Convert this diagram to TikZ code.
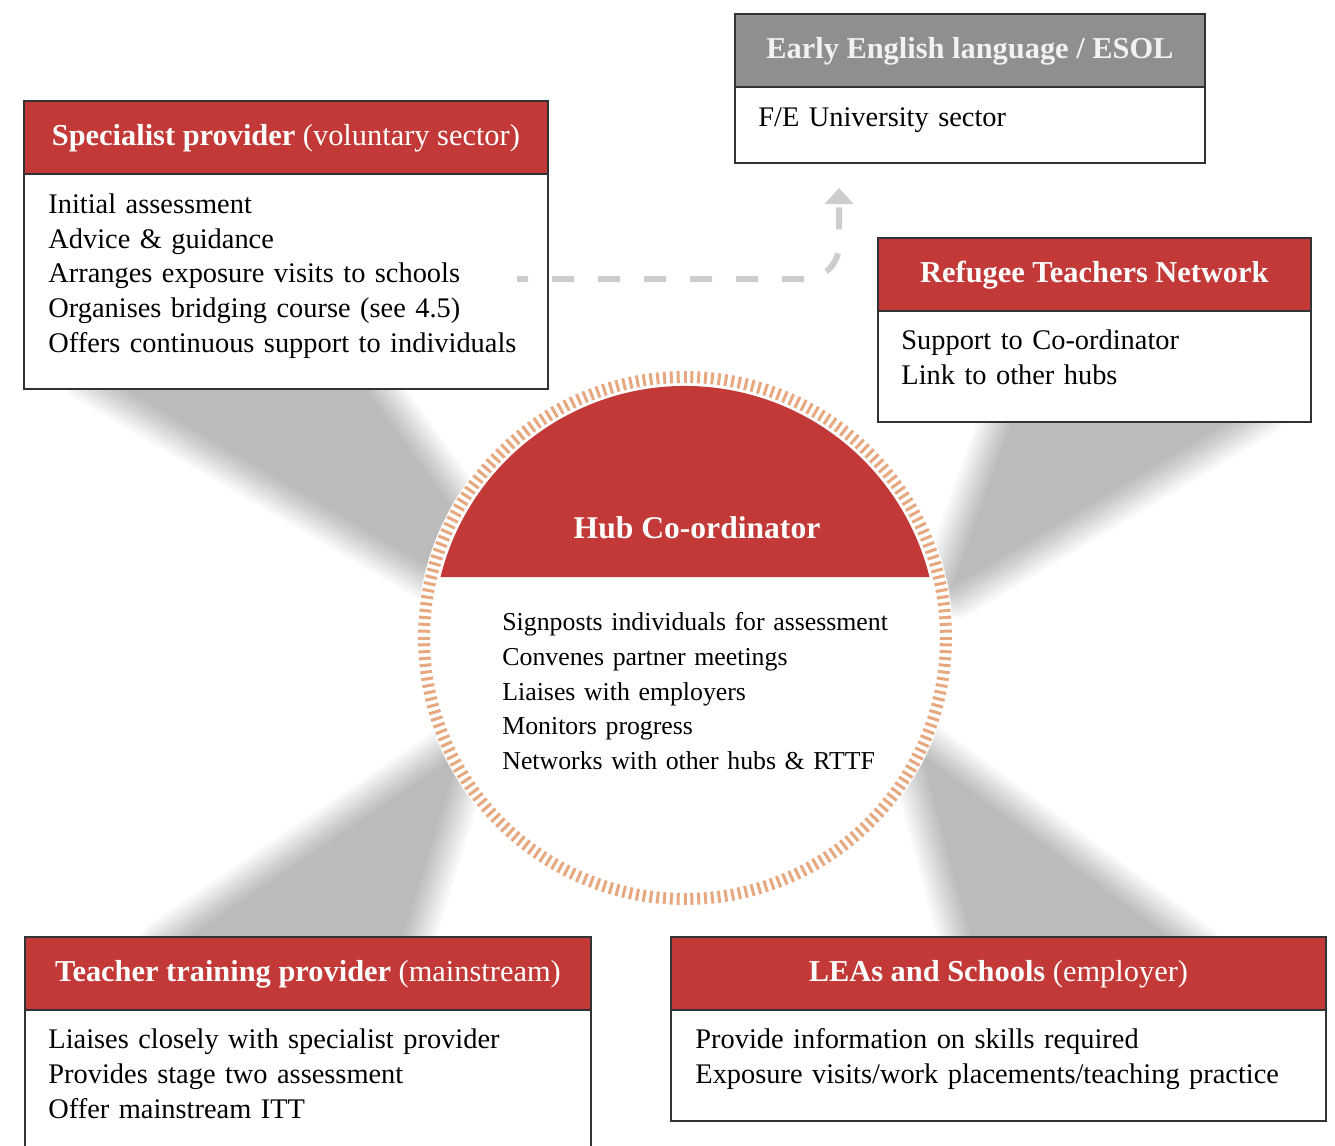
\documentclass[tikz,border=0pt]{standalone}
\usepackage{fontspec}
\setmainfont{Liberation Serif}
\usetikzlibrary{positioning,arrows.meta}

\definecolor{hubred}{RGB}{195,57,55}
\definecolor{headgray}{RGB}{143,143,143}
\definecolor{esolwhite}{RGB}{242,242,242}
\definecolor{boxline}{RGB}{50,50,50}
\definecolor{tickorange}{RGB}{231,168,128}
\definecolor{dashgray}{RGB}{205,205,205}

\newcommand\titlesize{\fontsize{15.2}{18}\selectfont}
\newcommand\bodysize{\fontsize{14.2}{17.35}\selectfont}
\newcommand\hubsize{\fontsize{12.9}{17.35}\selectfont}

\begin{document}
\begin{tikzpicture}[x=0.5pt, y=-0.5pt,
    frame/.style = {draw=boxline, line width=0.9pt, fill=white, anchor=north west, inner sep=0pt},
    head/.style = {frame, fill=hubred, text=white, font=\titlesize, minimum height=36.5pt, text depth=2.4pt},
    itemtext/.style = {align=left, inner sep=0pt, font=\bodysize, text width=#1},
    tick/.style = {draw=tickorange, line width=1.5pt},
    dasharrow/.style = {draw=dashgray, line width=3pt, dash pattern=on 11pt off 12pt, dash phase=5.5pt,
        rounded corners=17pt, -{Triangle[length=8pt, width=14pt]}}]
    \useasboundingbox (0,0) rectangle (1335,1146);
    \fill[white] (0,0) rectangle (1335,1146);

    % soft shadows behind the spokes
    \foreach \w in {33,30,27,24,21,18,15,12,9,6,3,0.1}{
        \begin{scope}[transparency group, opacity=0.022]
            \filldraw[line width=\w pt, line join=round] (92,370) -- (352,370) -- (542,633) -- cycle;
            \filldraw[line width=\w pt, line join=round] (170,950) -- (398,950) -- (459,754) -- cycle;
            \filldraw[line width=\w pt, line join=round] (1018,405) -- (1256,405) -- (953,586) -- cycle;
            \filldraw[line width=\w pt, line join=round] (976,955) -- (1192,955) -- (922,755) -- cycle;
        \end{scope}
    }

    % hub
    \coordinate (hub) at (685,638);
    \fill[white] (hub) circle[radius=134pt];
    \foreach \a in {0,1.5,...,358.5}
        \draw[tick] (hub) ++(\a:127.5pt) -- ++(\a:6pt);
    \fill[hubred] (hub) ++(166:126pt) arc[start angle=166, end angle=14, radius=126pt] -- cycle;
    \node[font=\fontsize{15.8}{18}\selectfont\bfseries, text=white] (hubtitle) at (697,528) {Hub Co-ordinator};
    \node[itemtext=230pt, font=\hubsize, anchor=north west] (hubtext) at (502,606)
        {\strut Signposts individuals for assessment\\Convenes partner meetings\\Liaises with employers\\Monitors progress\\Networks with other hubs \& RTTF};

    % specialist provider
    \node[frame, minimum width=262pt, minimum height=144pt] (spec) at (23,100) {};
    \node[head, minimum width=262pt] (spechead) at (spec.north west) {{\bfseries Specialist provider} (voluntary sector)};
    \node[itemtext=245pt, below right=7pt and 12.5pt of spechead.south west] (spectext)
        {\strut Initial assessment\\Advice \& guidance\\Arranges exposure visits to schools\\Organises bridging course (see 4.5)\\Offers continuous support to individuals};

    % early english
    \node[frame, minimum width=235pt, minimum height=74.5pt] (esol) at (734,13) {};
    \node[head, fill=headgray, text=esolwhite, minimum width=235pt] (esolhead) at (esol.north west) {\bfseries Early English language / ESOL};
    \node[itemtext=215pt, below right=7pt and 12pt of esolhead.south west] (esoltext) {\strut F/E University sector};

    % refugee teachers network
    \node[frame, minimum width=216.5pt, minimum height=92pt] (rtn) at (877,237) {};
    \node[head, minimum width=216.5pt] (rtnhead) at (rtn.north west) {\bfseries Refugee Teachers Network};
    \node[itemtext=200pt, below right=6.6pt and 12pt of rtnhead.south west] (rtntext)
        {\strut Support to Co-ordinator\\Link to other hubs};

    % teacher training provider
    \node[frame, minimum width=283pt, minimum height=112pt] (itt) at (24,936) {};
    \node[head, minimum width=283pt] (itthead) at (itt.north west) {{\bfseries Teacher training provider} (mainstream)};
    \node[itemtext=265pt, below right=6.6pt and 12pt of itthead.south west] (itttext)
        {\strut Liaises closely with specialist provider\\Provides stage two assessment\\Offer mainstream ITT};

    % LEAs and schools
    \node[frame, minimum width=327.5pt, minimum height=92pt] (lea) at (670,936) {};
    \node[head, minimum width=327.5pt] (leahead) at (lea.north west) {{\bfseries LEAs and Schools} (employer)};
    \node[itemtext=315pt, below right=6.6pt and 12.5pt of leahead.south west] (leatext)
        {\strut Provide information on skills required\\Exposure visits/work placements/teaching practice};

    % link to further education
    \coordinate (dstart) at (517,279);
    \coordinate (dend) at (839,188);
    \draw[dasharrow] (dstart) -| (dend);

\end{tikzpicture}
\end{document}
